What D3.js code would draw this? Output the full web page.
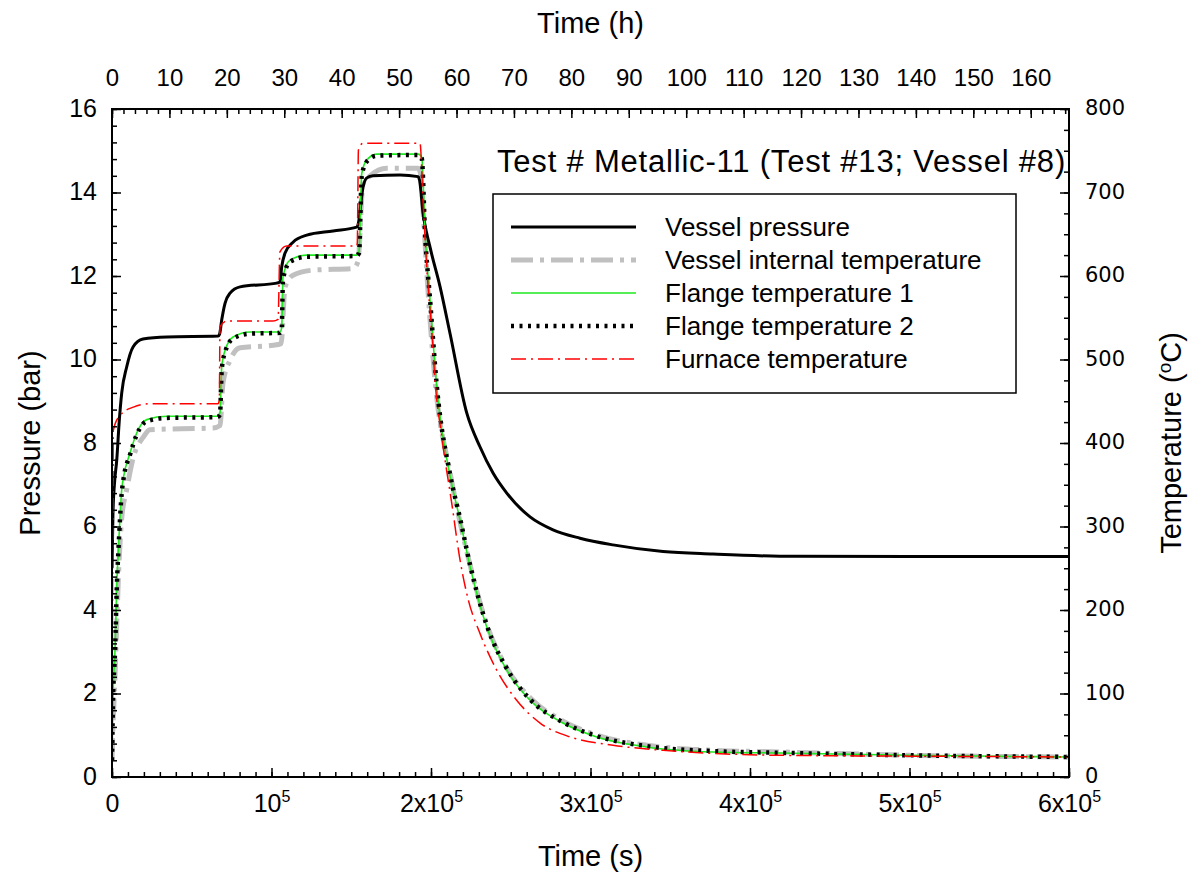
<!DOCTYPE html>
<html>
<head>
<meta charset="utf-8">
<script src="https://cdn.jsdelivr.net/npm/d3@7"></script>
<style>
  body { margin: 0; background: #fff; }
  svg { display: block; font-family: "Liberation Sans", Arial, sans-serif; }
  .tick line { stroke: #000; stroke-width: 1.5; }
</style>
</head>
<body>
<script>
// ---- data ----
// Vessel pressure (bar) vs time (s)
const pressTime = [0, 600, 1500, 3000, 4500, 6100, 9200, 13200, 19400, 34500, 66500, 67400, 68800, 70900, 74000, 80300, 103300, 105300, 106400, 108500, 113500, 122100, 138600, 153400, 154200, 157400, 159700, 163700, 180600, 191900, 192800, 195000, 199400, 205700, 211900, 222400, 230700, 238900, 247500, 262100, 276500, 293400, 314100, 345500, 376800, 418800, 500000, 600000];
const pressVal = [5.0, 6.3, 7.0, 7.6, 8.5, 9.2, 9.82, 10.3, 10.49, 10.54, 10.56, 10.6, 10.95, 11.35, 11.59, 11.74, 11.83, 11.86, 12.22, 12.55, 12.81, 12.98, 13.08, 13.17, 13.22, 14.13, 14.35, 14.4, 14.42, 14.38, 14.3, 13.51, 12.69, 11.74, 10.63, 8.72, 7.91, 7.28, 6.8, 6.23, 5.92, 5.72, 5.56, 5.4, 5.34, 5.29, 5.28, 5.28];

// Vessel internal temperature (C)
const vesselTime = [0, 600, 1900, 3100, 4500, 6100, 9200, 13400, 19600, 23800, 63300, 67800, 69600, 74000, 80300, 101000, 106000, 108500, 113500, 126000, 151100, 154200, 157400, 161800, 172200, 191900, 193500, 195000, 198100, 202500, 212000, 224500, 235100, 247700, 262100, 282800, 304100, 335400, 376800, 418800, 500000, 600000];
const vesselTemp = [20, 60, 120, 190, 260, 310, 344, 383, 407, 416, 418, 421, 472, 499, 514, 517, 519, 587, 601, 607, 609, 617, 711, 720, 729, 729, 722, 679, 583, 475, 364, 254, 182, 130, 95, 67, 50, 38, 32, 30, 26, 24];

// Flange temperature 1 (C)
const flange1Time = [0, 600, 1900, 3100, 4000, 6100, 7300, 11300, 15500, 21800, 34400, 65900, 67700, 68800, 70900, 75900, 86500, 105300, 106400, 107200, 111600, 122100, 153400, 154900, 156600, 159700, 166000, 192100, 194200, 196300, 199400, 203600, 212000, 218200, 224500, 234900, 247500, 262100, 282800, 303900, 335200, 376800, 418800, 500000, 600000];
const flange1Temp = [22, 92, 152, 236, 272, 344, 360, 388, 412, 428, 432, 432, 436, 491, 511, 527, 533, 533, 538, 599, 619, 625, 625, 630, 723, 739, 746, 746, 742, 651, 571, 467, 360, 308, 252, 180, 128, 92, 64.6, 48, 36, 30, 28.7, 26, 24];

// Flange temperature 2 (C)
const flange2Time = [0, 600, 1900, 3100, 4000, 6100, 7300, 11300, 15500, 21800, 34400, 65900, 67700, 68800, 70900, 75900, 86500, 105300, 106400, 107200, 111600, 122100, 153400, 154900, 156600, 159700, 166000, 192100, 194200, 196300, 199400, 203600, 212000, 218200, 224500, 234900, 247500, 262100, 282800, 303900, 335200, 376800, 418800, 500000, 600000];
const flange2Temp = [20, 88, 150, 232, 270, 340, 358, 386, 410, 426, 430, 431, 434, 488, 509, 525, 531, 532, 536, 596, 617, 623, 624, 628, 720, 737, 744, 745, 741, 650, 572, 469, 362, 310, 254, 182, 130, 93, 65.5, 49, 37, 31, 29, 26, 24];

// Furnace temperature (C)
const furnaceTime = [0, 300, 700, 800, 5000, 13400, 23800, 66500, 67300, 67700, 71900, 101000, 104100, 105300, 109500, 153400, 153800, 154500, 157400, 193100, 195000, 197300, 200500, 202500, 206700, 213000, 218200, 223400, 230700, 241200, 253700, 268400, 287200, 314100, 345500, 418800, 500000, 600000];
const furnaceTemp = [25, 200, 380, 415, 433, 443, 447, 447, 452, 539, 546, 546, 548, 629, 636, 636, 640, 751, 759, 759, 691, 611, 532, 475, 408, 328, 260, 212, 172, 128, 92, 64.6, 48, 38, 32, 26, 25, 24];

// axis ticks
const secTicks = [0, 100000, 200000, 300000, 400000, 500000, 600000];
const hourTicks = [0, 10, 20, 30, 40, 50, 60, 70, 80, 90, 100, 110, 120, 130, 140, 150, 160];
const presTicks = [0, 2, 4, 6, 8, 10, 12, 14, 16];
const tempTicks = [0, 100, 200, 300, 400, 500, 600, 700, 800];

const titleText = "Test # Metallic-11 (Test #13; Vessel #8)";
const seriesNames = ["Vessel pressure", "Vessel internal temperature", "Flange temperature 1", "Flange temperature 2", "Furnace temperature"];

// ---- layout ----
const width = 1191, height = 881;
const plot = { left: 112, right: 1069, top: 109, bottom: 777 };

const svg = d3.select("body").append("svg")
  .attr("width", width)
  .attr("height", height);

svg.append("rect").attr("width", width).attr("height", height).attr("fill", "#fff");

const x = d3.scaleLinear().domain([0, 600000]).range([plot.left, plot.right]);
const xh = d3.scaleLinear().domain([0, 600000 / 3600]).range([plot.left, plot.right]);
const yP = d3.scaleLinear().domain([0, 16]).range([plot.bottom, plot.top]);
const yT = d3.scaleLinear().domain([0, 800]).range([plot.bottom, plot.top]);

svg.append("clipPath").attr("id", "clip")
  .append("rect")
  .attr("x", plot.left).attr("y", plot.top)
  .attr("width", plot.right - plot.left).attr("height", plot.bottom - plot.top);

// styles for the five lines
const styles = [
  { color: "#000", width: 3, dash: null },
  { color: "#c0c0c0", width: 5, dash: "22,7,4,7" },
  { color: "#1ee81e", width: 1.6, dash: null },
  { color: "#000", width: 4.5, dash: "3,5.5" },
  { color: "#ff0000", width: 1.5, dash: "15,5,2,5" }
];

const series = [
  { t: pressTime, v: pressVal, y: yP },
  { t: vesselTime, v: vesselTemp, y: yT },
  { t: flange1Time, v: flange1Temp, y: yT },
  { t: flange2Time, v: flange2Temp, y: yT },
  { t: furnaceTime, v: furnaceTemp, y: yT }
];

// draw order: gray underneath, furnace on top
const drawOrder = [1, 0, 2, 3, 4];
const lines = svg.append("g").attr("clip-path", "url(#clip)");
drawOrder.forEach(i => {
  const s = series[i], st = styles[i];
  const line = d3.line()
    .curve(d3.curveMonotoneX)
    .x(d => x(d[0]))
    .y(d => s.y(d[1]));
  lines.append("path")
    .datum(d3.zip(s.t, s.v))
    .attr("fill", "none")
    .attr("stroke", st.color)
    .attr("stroke-width", st.width)
    .attr("stroke-dasharray", st.dash)
    .attr("stroke-linejoin", "round")
    .attr("d", line);
});

// ---- axes (ticks point inward) ----
const major = 9, minor = 5;

function minorAxis(axis, scale, step, g) {
  const [a, b] = scale.domain();
  g.append("g").call(axis(scale).tickValues(d3.range(a, b + 1e-9, step)).tickSize(-minor).tickFormat(""))
    .call(g => g.select(".domain").remove());
}

// bottom: seconds
const gB = svg.append("g").attr("transform", `translate(0,${plot.bottom})`);
minorAxis(d3.axisBottom, x, 10000, gB);
gB.append("g")
  .call(d3.axisBottom(x).tickValues(secTicks).tickSize(-major).tickPadding(17).tickFormat(""))
  .call(g => g.select(".domain").remove())
  .selectAll(".tick text")
  .attr("font-size", 25)
  .attr("fill", "#000")
  .each(function(d) {
    const t = d3.select(this);
    const k = Math.round(d / 100000);
    if (k === 0) { t.text("0"); return; }
    t.append("tspan").text(k === 1 ? "10" : k + "x10");
    t.append("tspan").attr("dy", -10).attr("font-size", 16).text("5");
  });

// top: hours
const gT = svg.append("g").attr("transform", `translate(0,${plot.top})`);
minorAxis(d3.axisTop, xh, 2, gT);
gT.append("g")
  .call(d3.axisTop(xh).tickValues(hourTicks).tickSize(-major).tickPadding(23).tickFormat(d3.format("d")))
  .call(g => g.select(".domain").remove())
  .selectAll("text").attr("font-size", 24).attr("fill", "#000");

// left: pressure
const gL = svg.append("g").attr("transform", `translate(${plot.left},0)`);
minorAxis(d3.axisLeft, yP, 0.4, gL);
gL.append("g")
  .call(d3.axisLeft(yP).tickValues(presTicks).tickSize(-major).tickPadding(15).tickFormat(d3.format("d")))
  .call(g => g.select(".domain").remove())
  .selectAll("text").attr("font-size", 25).attr("fill", "#000").attr("dy", "0.28em");

// right: temperature
const gR = svg.append("g").attr("transform", `translate(${plot.right},0)`);
minorAxis(d3.axisRight, yT, 25, gR);
gR.append("g")
  .call(d3.axisRight(yT).tickValues(tempTicks).tickSize(-major).tickPadding(16).tickFormat(d3.format("d")))
  .call(g => g.select(".domain").remove())
  .selectAll("text")
  .attr("font-family", "'DejaVu Sans', Verdana, sans-serif")
  .attr("font-size", 21).attr("fill", "#000").attr("dy", "0.28em");

// frame
svg.append("rect")
  .attr("x", plot.left).attr("y", plot.top)
  .attr("width", plot.right - plot.left).attr("height", plot.bottom - plot.top)
  .attr("fill", "none").attr("stroke", "#000").attr("stroke-width", 2);

// axis titles
const cx = (plot.left + plot.right) / 2;
svg.append("text").attr("x", cx).attr("y", 33).attr("text-anchor", "middle")
  .attr("font-size", 29).text("Time (h)");
svg.append("text").attr("x", cx).attr("y", 866).attr("text-anchor", "middle")
  .attr("font-size", 29).text("Time (s)");
svg.append("text").attr("transform", `translate(40,${(plot.top + plot.bottom) / 2}) rotate(-90)`)
  .attr("text-anchor", "middle").attr("font-size", 29).text("Pressure (bar)");
const tTitle = svg.append("text")
  .attr("transform", `translate(1181,${(plot.top + plot.bottom) / 2}) rotate(-90)`)
  .attr("text-anchor", "middle").attr("font-size", 29);
tTitle.append("tspan").text("Temperature (");
tTitle.append("tspan").attr("dy", -10).attr("font-size", 19).text("o");
tTitle.append("tspan").attr("dy", 10).text("C)");

// chart title
svg.append("text").attr("x", 497).attr("y", 172)
  .attr("font-size", 31).attr("letter-spacing", 0.8)
  .text(titleText);

// legend
const legend = svg.append("g");
legend.append("rect")
  .attr("x", 493).attr("y", 194).attr("width", 523).attr("height", 199)
  .attr("fill", "#fff").attr("stroke", "#000").attr("stroke-width", 1.5);
seriesNames.forEach((name, i) => {
  const ry = 227 + i * 33;
  const st = styles[i];
  legend.append("line")
    .attr("x1", 511).attr("x2", 636).attr("y1", ry).attr("y2", ry)
    .attr("stroke", st.color).attr("stroke-width", st.width)
    .attr("stroke-dasharray", st.dash);
  legend.append("text")
    .attr("x", 665).attr("y", ry + 9)
    .attr("font-size", 26)
    .text(name);
});
</script>
</body>
</html>
